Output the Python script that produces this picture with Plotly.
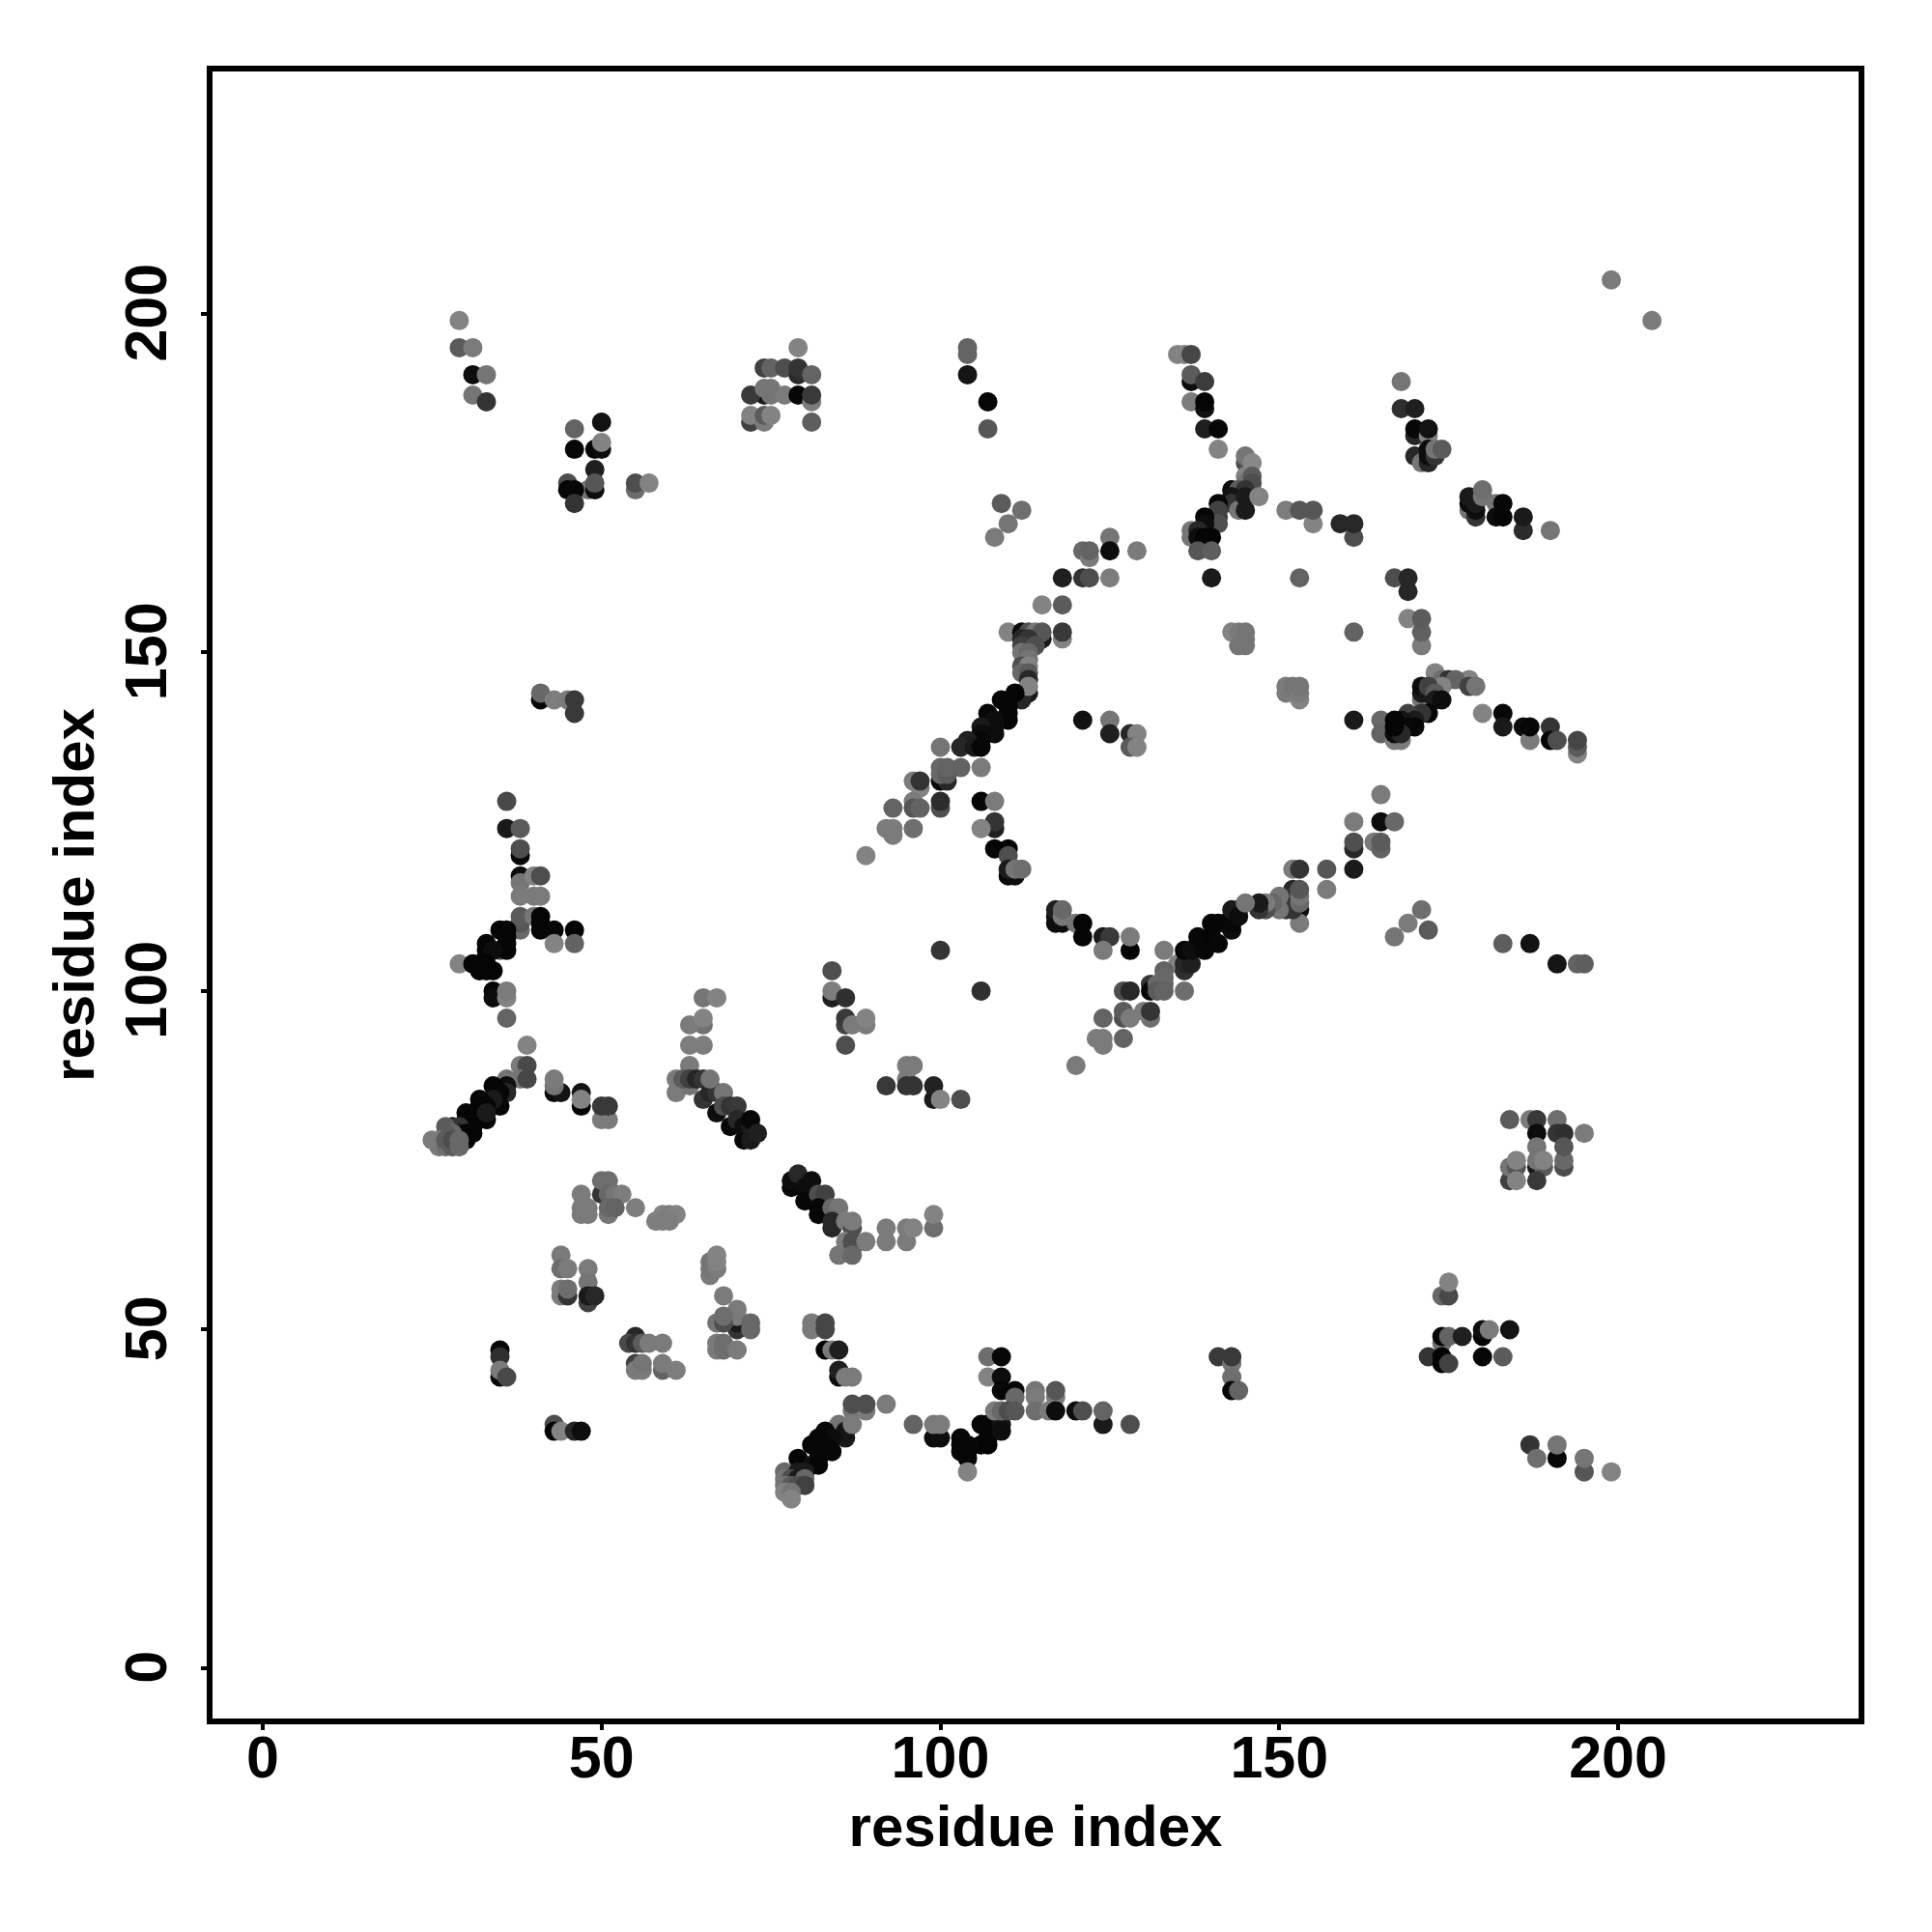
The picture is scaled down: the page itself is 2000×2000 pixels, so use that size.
import plotly.graph_objects as go

# (residue i, residue j, grey level 0=black .. 0.5=mid grey)
contacts_upper_left = [
(29,199,.5),(29,195,.35),(31,195,.47),(31,191,.05),(33,191,.45),(31,188,.45),(33,187,.2),
(46,183,.38),(50,184,.07),(46,180,.03),(49,180,.03),(50,180,.05),(50,181,.5),(49,177,.12),
(45,175,.3),(45,174,.03),(48,174,.45),(49,174,.05),(49,175,.33),(46,174,.03),(46,172,.2),
(55,174,.42),(55,175,.3),(57,175,.5),
(79,195,.5),(74,192,.25),(75,192,.38),(77,192,.3),(79,191,.17),(79,192,.2),(81,191,.38),
(74,188,.1),(72,188,.22),(74,189,.45),(75,189,.45),(75,188,.45),(77,188,.47),(79,188,.03),(81,187,.48),(81,188,.22),
(72,184,.25),(72,185,.5),(74,184,.47),(74,185,.35),(75,185,.5),(81,184,.36),
(41,143,.03),(41,144,.4),(43,143,.48),(45,143,.47),(46,143,.22),(46,141,.22),
]
contacts_upper_mid = [
(104,195,.38),(104,194,.38),(104,191,.08),(107,187,.03),(107,183,.33),
(135,194,.5),(136,194,.5),(137,194,.27),(137,190,.05),(137,191,.35),(139,190,.23),
(137,187,.47),(139,186,.07),(139,187,.02),(139,183,.12),(141,183,.03),(141,180,.5),
(145,178,.3),(145,179,.45),(146,178,.52),(145,176,.5),(145,175,.45),(146,176,.35),(146,175,.3),
(143,174,.05),(144,174,.35),(145,174,.2),(143,173,.08),(143,172,.2),(144,171,.45),(145,173,.1),(145,171,.1),(147,173,.5),
(141,172,.03),(141,171,.25),(141,170,.25),(141,169,.3),(139,170,.02),(139,169,.05),
(137,168,.45),(137,167,.45),(138,168,.15),(138,167,.05),(139,167,.02),(140,167,.02),
(138,165,.33),(140,165,.36),(140,161,.1),
(151,171,.48),(153,171,.33),(155,169,.5),(155,171,.33),(153,161,.38),(159,169,.15),(161,167,.3),(161,169,.15),
(109,172,.35),(112,171,.42),(110,169,.45),(108,167,.47),
(125,167,.45),(125,165,.05),(121,165,.4),(122,164,.47),(122,165,.38),(129,165,.47),
(118,161,.12),(121,161,.2),(122,161,.3),(125,161,.48),(115,157,.5),(118,157,.35),
(110,153,.5),(112,153,.05),(113,153,.3),(114,153,.45),(115,152,.1),(115,153,.33),(118,152,.5),(118,153,.22),
]
contacts_long_diagonal = [
(112,152,.15),(113,152,.2),(112,151,.25),(114,151,.3),(112,150,.45),(113,150,.4),(113,149,.45),
(112,148,.3),(113,148,.5),(112,147,.4),(113,147,.35),(113,146,.15),(112,144,.05),(113,144,.1),(112,143,.15),(113,145,.5),
(111,144,.02),(109,143,.02),(110,142,.02),(110,141,.02),(110,140,.02),(107,141,.03),(108,140,.05),(108,139,.05),
(106,139,.1),(108,138,.05),(106,138,.05),(106,137,.03),(104,137,.12),(103,136,.15),(105,136,.1),(106,136,.03),(100,136,.45),
(121,140,.07),(125,140,.45),(125,138,.12),(128,138,.15),(129,138,.5),(128,136,.35),(129,136,.5),
(143,153,.5),(144,153,.47),(145,153,.45),(145,152,.45),(144,151,.45),(145,151,.45),
(151,145,.47),(151,144,.47),(152,145,.45),(153,143,.5),(153,144,.47),(153,145,.45),
(161,153,.38),(161,140,.1),(199,205,.47),(205,199,.47),
]
contacts_upper_right = [
(168,190,.45),(168,186,.18),(170,186,.12),(170,182,.15),(170,183,.03),(172,182,.5),(172,183,.07),
(170,179,.15),(171,178,.45),(172,178,.15),(172,179,.05),(172,180,.05),(173,179,.2),(173,180,.45),(174,180,.35),
(178,171,.45),(178,172,.05),(178,173,.1),(179,170,.2),(179,171,.05),(179,172,.1),(180,173,.45),(180,174,.42),
(182,172,.45),(182,170,.05),(183,170,.02),(183,172,.03),(186,168,.17),(186,170,.1),(190,168,.45),
(169,155,.5),(171,151,.47),(171,153,.37),(171,155,.35),(167,161,.3),(169,159,.15),(169,161,.15),
(173,147,.5),(178,146,.5),(174,146,.42),(175,146,.2),(176,146,.38),(178,145,.25),(179,145,.45),(174,145,.5),
(171,143,.45),(171,144,.1),(171,145,.05),(172,144,.1),(172,145,.25),(173,144,.35),(173,143,.1),(174,143,.05),
(172,141,.03),(171,141,.2),(169,141,.25),(170,140,.1),(168,140,.08),(170,139,.03),(169,139,.03),
(165,140,.4),(165,138,.38),(167,137,.47),(168,137,.47),(167,138,.05),(168,138,.15),(167,139,.02),(167,140,.02),
(180,141,.5),(183,141,.03),(183,139,.1),(186,139,.05),(187,137,.47),(187,139,.03),(190,139,.2),(190,137,.03),(191,137,.3),
(194,135,.5),(194,136,.35),(194,137,.27),
]
contacts_right = [
(165,129,.47),(161,125,.47),(165,125,.05),(167,125,.4),(161,121,.15),(161,122,.3),(164,122,.47),(165,121,.38),(165,122,.35),
(161,118,.1),(157,118,.33),(152,118,.47),(153,118,.2),(157,115,.47),
(171,112,.42),(169,110,.47),(167,108,.45),(172,109,.35),(183,107,.36),(187,107,.07),(191,104,.08),(194,104,.38),(195,104,.36),
(184,81,.35),(187,81,.47),(188,81,.22),(191,81,.42),(188,79,.05),(191,79,.2),(192,79,.18),(195,79,.47),
(188,77,.45),(192,74,.3),(192,75,.4),(192,77,.33),(188,74,.1),(189,74,.35),(188,75,.45),(189,75,.5),
(184,72,.25),(184,74,.45),(185,74,.33),(185,75,.5),(185,72,.5),(188,72,.22),
]
contacts_ring = [
(153,112,.05),(153,110,.47),(152,115,.15),(152,114,.2),(152,112,.2),(151,112,.2),(150,114,.45),(150,112,.45),(149,113,.4),
(148,112,.3),(148,113,.47),(147,112,.2),(147,113,.1),(153,113,.4),(153,114,.45),(153,115,.33),
(106,133,.47),(103,133,.38),(100,131,.03),(101,131,.15),(100,132,.4),(100,133,.4),(101,132,.35),(101,133,.38),
(96,131,.47),(97,130,.5),(97,131,.2),(100,127,.3),(100,128,.17),(96,128,.47),(96,127,.33),(97,127,.38),(93,127,.38),
(93,123,.47),(92,124,.47),(93,124,.47),(96,124,.42),(89,120,.5),
(106,128,.03),(108,128,.47),(108,124,.12),(108,125,.2),(106,124,.5),(108,121,.03),(110,121,.02),(110,120,.3),
(110,117,.03),(111,117,.05),(110,118,.1),(111,118,.45),(112,118,.42),
(117,110,.05),(118,110,.05),(117,111,.05),(117,112,.12),(118,111,.47),(118,112,.4),(120,110,.45),(121,108,.02),(121,110,.02),
(124,108,.1),(125,108,.22),(128,106,.02),(128,108,.47),(124,106,.47),(100,106,.2),(106,100,.18),
(133,106,.47),(135,104,.5),(136,103,.18),(136,104,.15),(137,104,.12),(136,106,.03),(137,106,.05),(138,107,.05),(138,108,.03),
(139,106,.03),(140,108,.02),(141,107,.03),(140,110,.02),(141,110,.02),(142,110,.02),(143,109,.05),(143,110,.03),
(143,112,.1),(144,112,.1),(144,111,.05),(145,113,.45),
(133,103,.38),(131,101,.2),(131,100,.03),(133,102,.4),(132,101,.4),(133,101,.4),(132,100,.35),(133,100,.38),(136,100,.42),
(127,100,.3),(128,100,.15),(127,96,.3),(127,97,.35),(128,96,.47),(131,96,.42),(130,97,.47),(131,97,.2),(124,96,.38),
(124,92,.47),(123,93,.47),(124,93,.47),(127,93,.38),(120,89,.47),
(95,89,.47),(96,89,.47),(95,87,.47),(92,86,.22),(95,86,.2),(96,86,.2),(99,84,.1),(99,86,.13),(100,84,.5),(103,84,.3),
]
contacts_left = [
(36,128,.28),(36,124,.1),(38,124,.35),(38,120,.03),(38,121,.3),(38,117,.05),(38,116,.45),(40,117,.5),(41,117,.3),
(38,114,.47),(40,114,.47),(41,114,.47),(38,109,.4),(38,110,.33),(38,111,.35),(40,111,.45),(41,111,.02),(41,110,.02),(41,109,.02),
(43,109,.03),(46,109,.02),(43,107,.5),(46,107,.38),
(35,109,.02),(36,109,.02),(36,108,.02),(35,106,.3),(36,107,.02),(36,106,.02),(33,107,.02),(33,106,.02),(34,106,.05),
(29,104,.5),(31,104,.02),(32,104,.02),(33,104,.02),(32,103,.02),(33,103,.02),(34,103,.02),
(34,100,.02),(34,99,.05),(36,99,.5),(36,100,.47),(36,96,.38),
(39,92,.5),(38,89,.47),(39,89,.28),(38,87,.45),(39,87,.27),(36,87,.45),(36,86,.05),(36,85,.15),
(34,86,.02),(35,85,.03),(35,83,.03),(34,84,.1),(32,84,.02),(33,83,.03),(32,83,.02),(30,82,.03),(30,81,.02),(31,81,.02),(33,81,.02),(33,82,.1),
(31,80,.02),(28,80,.1),(29,80,.2),(27,80,.35),(29,79,.1),(30,79,.02),(31,79,.02),(30,78,.02),(28,79,.4),(27,79,.35),
(25,78,.47),(26,78,.47),(26,77,.47),(27,77,.42),(27,78,.35),(28,77,.35),(28,78,.3),(29,77,.4),(29,78,.4),
(43,85,.03),(44,85,.08),(43,86,.45),(43,87,.47),(47,83,.02),(47,85,.08),(47,84,.5),(50,81,.47),(51,81,.47),(50,83,.22),(51,83,.22),
]
contacts_mid_left = [
(65,99,.45),(67,99,.5),(65,95,.43),(63,95,.47),(65,96,.5),(63,92,.48),(65,92,.48),(63,89,.47),
(61,85,.47),(61,87,.47),(63,86,.45),(62,87,.35),(63,87,.25),(64,87,.15),(65,84,.2),(65,87,.2),(66,85,.15),(67,85,.2),(66,87,.45),(68,85,.45),
(67,82,.05),(68,83,.3),(69,83,.2),(70,83,.22),(69,80,.03),(70,81,.15),(71,78,.03),(71,80,.05),(72,78,.1),(72,80,.1),(72,81,.03),(73,79,.12),
(84,103,.3),(84,99,.12),(84,100,.48),(86,99,.18),(86,95,.25),(86,96,.22),(87,95,.47),(89,95,.47),(89,96,.5),(86,92,.3),
(50,70,.2),(50,72,.42),(51,72,.42),(51,70,.4),(52,70,.45),(53,70,.48),(47,70,.47),(47,68,.47),(48,68,.47),(47,67,.47),(48,67,.47),
(51,67,.45),(51,68,.4),(52,68,.38),(55,68,.48),(58,66,.48),(59,67,.5),(60,67,.48),(61,67,.5),(59,66,.48),(60,66,.48),
]
contacts_segment_78_99 = [
(78,71,.03),(78,72,.05),(79,73,.15),(80,71,.05),(81,72,.05),(80,69,.03),(82,70,.3),(83,70,.25),(82,68,.03),(82,67,.03),
(84,68,.4),(85,68,.45),(84,66,.15),(84,65,.15),(86,66,.47),(87,65,.3),(87,66,.47),(86,63,.47),(87,62,.3),(87,63,.3),(85,61,.45),(87,61,.4),
(89,63,.47),(92,63,.47),(92,65,.47),(95,63,.47),(95,65,.47),(96,65,.5),(99,65,.42),(99,67,.5),
]
contacts_lower_left = [
(44,61,.47),(44,59,.42),(45,59,.47),(48,59,.47),(48,57,.45),(44,55,.47),(44,56,.47),(45,55,.2),(45,56,.42),(48,54,.25),(48,55,.1),(49,55,.15),
(35,47,.03),(35,46,.18),(35,43,.02),(35,44,.47),(36,43,.28),
(55,49,.15),(54,48,.28),(55,48,.2),(56,48,.35),(57,48,.47),(59,48,.47),(55,45,.25),(55,44,.47),(56,44,.47),(56,45,.45),(59,44,.38),(59,45,.47),(61,44,.48),
(43,36,.3),(43,35,.02),(44,35,.5),(46,35,.15),(47,35,.05),
(66,58,.47),(66,59,.45),(66,60,.45),(67,59,.47),(67,60,.5),(67,61,.5),(68,55,.47),
(70,50,.2),(70,51,.1),(70,52,.47),(70,53,.47),(67,51,.45),(68,51,.3),(68,52,.42),(72,50,.4),(72,51,.4),
(67,47,.47),(67,48,.47),(68,47,.42),(68,48,.42),(70,47,.47),
]
contacts_lower_mid = [
(81,50,.47),(81,51,.47),(83,50,.27),(83,51,.27),(83,47,.02),(84,47,.47),(85,47,.12),(85,43,.05),(85,44,.12),(86,43,.47),(87,43,.47),
(87,38,.45),(89,38,.47),(87,39,.3),(89,39,.3),(92,39,.47),
(85,35,.05),(85,36,.45),(86,34,.1),(86,35,.08),(87,36,.47),(83,35,.03),(84,34,.05),(82,34,.03),(81,33,.03),(83,33,.03),(84,32,.03),
(82,31,.03),(79,31,.02),(81,30,.05),(82,30,.02),(77,29,.4),(79,29,.1),(80,29,.1),(77,28,.45),(78,28,.3),(79,28,.1),(80,28,.4),
(77,27,.45),(78,27,.35),(79,27,.3),(80,27,.25),(77,26,.5),(78,26,.45),(78,25,.5),
(96,36,.38),(99,34,.05),(100,34,.05),(99,36,.47),(100,36,.47),
(103,34,.03),(103,33,.03),(103,32,.03),(104,33,.03),(104,32,.03),(104,31,.03),(104,29,.5),
(106,36,.03),(107,36,.02),(106,33,.03),(107,33,.02),(107,34,.02),(109,36,.08),(109,35,.05),
(107,46,.42),(109,46,.03),(107,43,.5),(109,43,.05),(109,41,.03),(111,41,.03),(111,40,.4),
(108,38,.47),(109,38,.4),(110,38,.3),(111,38,.33),
(114,41,.45),(114,40,.47),(114,38,.42),(116,38,.47),(117,40,.47),(117,41,.33),(117,38,.05),
(120,38,.05),(121,38,.3),(124,36,.1),(124,38,.38),(128,36,.3),
]
contacts_lower_right = [
(141,46,.22),(143,45,.45),(143,46,.22),(143,43,.42),(143,41,.03),(144,41,.38),
(174,55,.4),(175,55,.28),(175,57,.5),(174,48,.42),(174,49,.03),(175,49,.38),(177,49,.12),(180,49,.02),(180,50,.05),(181,50,.47),(184,50,.07),
(172,46,.2),(174,45,.02),(174,46,.02),(175,45,.25),(180,46,.03),(183,46,.35),
(187,33,.2),(188,31,.42),(191,31,.03),(191,33,.45),(195,29,.33),(195,31,.45),(199,29,.5),
]

tick_values = [0, 50, 100, 150, 200]
axis_label = "residue index"

contacts = (contacts_upper_left + contacts_upper_mid + contacts_long_diagonal + contacts_upper_right
            + contacts_right + contacts_ring + contacts_left + contacts_mid_left
            + contacts_segment_78_99 + contacts_lower_left + contacts_lower_mid + contacts_lower_right)
residue_i = [c[0] for c in contacts]
residue_j = [c[1] for c in contacts]
colours = ["rgb({0},{0},{0})".format(int(c[2] * 262)) for c in contacts]

TICK_FONT = dict(family="Liberation Sans", size=61, color="black", weight="bold")
TITLE_FONT = dict(family="Liberation Sans", size=60, color="black", weight="bold")

fig = go.Figure(go.Scatter(
    x=residue_i, y=residue_j, mode="markers",
    marker=dict(size=20, color=colours, line=dict(width=0)),
    hoverinfo="skip", showlegend=False,
))

axis = dict(
    tickvals=tick_values, ticktext=[str(v) for v in tick_values],
    ticks="outside", ticklen=6, tickwidth=4, tickcolor="black",
    showline=True, linewidth=6, linecolor="black", mirror=True,
    showgrid=False, zeroline=False, automargin=False,
    tickfont=TICK_FONT,
)
fig.update_layout(
    width=2000, height=2000, autosize=False,
    paper_bgcolor="white", plot_bgcolor="white",
    margin=dict(l=212, r=84, t=66, b=229, pad=0),
    xaxis=dict(axis, range=[-7.41, 235.49], tickangle=0, ticklabelstandoff=-24,
               title=dict(text=axis_label, font=TITLE_FONT, standoff=19)),
    yaxis=dict(axis, range=[-7.42, 235.78], tickangle=-90, ticklabelstandoff=12, ticklabelshift=8,
               title=dict(text=axis_label, font=TITLE_FONT, standoff=2)),
)
fig.write_html("out.html")
